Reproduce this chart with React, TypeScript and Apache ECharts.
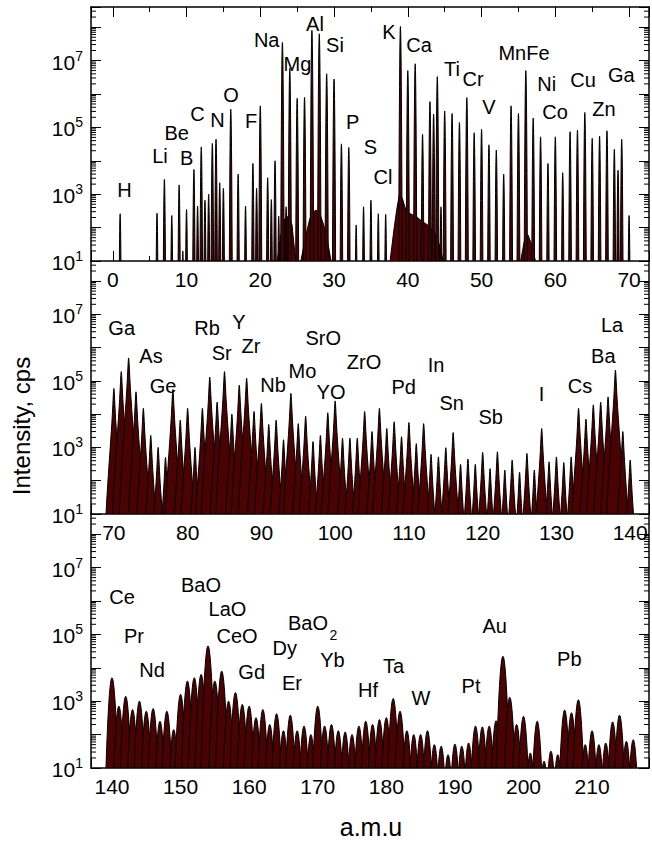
import React, { useEffect, useRef } from 'react';
import * as echarts from 'echarts';

// ---------------- data ----------------
// [mass (a.m.u), intensity (cps)]
const P1_PEAKS: [number, number][] = [
  [1, 260], [6, 270], [7, 2800], [8, 230], [9, 1900], [9.5, 20], [10, 350], [11, 5500], [11.5, 440],
  [12, 26000], [12.5, 660], [13, 1000], [13.5, 33000], [14, 44000], [14.5, 2200], [15, 1500],
  [16, 350000], [17, 4000], [18, 440], [19, 8300], [19.5, 1500], [20, 440000], [21, 3100], [21.5, 690],
  [22, 10000], [22.5, 220], [23, 3.5e7], [23.5, 420], [24, 5.9e6], [25, 7.4e5], [26, 7.9e5],
  [27, 8e7], [28, 6.3e7], [29, 4e6], [30, 2.8e6], [31, 32000], [32, 25000], [33, 120], [34, 420],
  [35, 660], [36, 260], [37, 250], [39, 1.05e8], [40, 5e6], [41, 8e6], [42, 62000], [43, 5.9e5],
  [43.5, 2.5e5], [44, 3.3e6], [44.5, 420], [45, 3.1e5], [46, 2.6e5], [47, 1.4e5], [48, 7.8e5],
  [49, 69000], [50, 87000], [51, 30000], [52, 21000], [53, 4000], [54, 4.4e5], [55, 2.6e5],
  [56, 5e6], [57, 1.9e5], [58, 52000], [59, 8300], [60, 52000], [61, 4400], [62, 74000],
  [63, 83000], [64, 2.8e5], [65, 47000], [66, 55000], [67, 79000], [68, 22000], [68.5, 5200],
  [69, 44000], [70, 230],
];
// broad continuum under the strongest lines of the first panel
const P1_HILL_NA: [number, number][] = [[22.3, 10], [22.8, 60], [23.3, 180], [23.8, 220], [24.3, 120], [24.8, 10]];
const P1_HILL_AL: [number, number][] = [[25.5, 10], [26.2, 60], [26.7, 180], [27.2, 300], [27.6, 330], [28.1, 250], [28.6, 120], [29.1, 40], [29.6, 10]];
const P1_HILL_K: [number, number][] = [[37.6, 10], [38.1, 80], [38.5, 350], [38.9, 1100], [39.3, 700], [39.8, 300], [40.5, 250], [41.3, 200], [42, 150], [42.7, 120], [43.5, 80], [44.3, 30], [44.8, 10]];
const P1_HILL_FE: [number, number][] = [[55.3, 10], [55.8, 40], [56.3, 60], [56.8, 30], [57.3, 10]];

const P2_PEAKS: [number, number][] = [
  [70, 59000], [71, 1.9e5], [72, 4.9e5], [73, 47000], [74, 15000], [75, 2300], [76, 1000], [77, 500],
  [78, 55000], [79, 6600], [80, 15000], [81, 1000], [82, 15000], [83, 1.3e5], [84, 23000], [85, 1.9e5],
  [86, 10000], [87, 74000], [88, 1.2e5], [89, 12000], [90, 21000], [91, 4900], [92, 6600], [93, 1700],
  [94, 42000], [95, 5200], [96, 8700], [97, 1500], [98, 2300], [99, 11000], [100, 25000], [101, 1900],
  [102, 1900], [103, 1900], [104, 12000], [105, 3000], [106, 15000], [107, 3700], [108, 5900],
  [109, 2100], [110, 5600], [111, 1300], [112, 5200], [113, 620], [114, 520], [115, 980], [116, 2800],
  [117, 310], [118, 450], [119, 310], [120, 710], [121, 230], [122, 740], [123, 210], [124, 420],
  [125, 180], [126, 660], [127, 210], [128, 3700], [129, 370], [130, 520], [131, 350], [132, 520],
  [133, 15000], [134, 7100], [135, 19000], [136, 23000], [137, 33000], [138, 2.1e5], [139, 3000],
  [140, 420],
];

const P3_PEAKS: [number, number][] = [
  [140, 5000], [141, 710], [142, 1400], [143, 560], [144, 1000], [145, 500], [146, 600], [147, 250],
  [148, 500], [149, 140], [150, 1600], [151, 4000], [152, 5000], [153, 6300], [154, 45000], [155, 4000],
  [156, 7900], [157, 1000], [158, 1800], [159, 800], [160, 710], [161, 320], [162, 560], [163, 200],
  [164, 420], [165, 130], [166, 380], [167, 130], [168, 180], [169, 100], [170, 710], [171, 180],
  [172, 200], [173, 130], [174, 120], [175, 100], [176, 180], [177, 250], [178, 200], [179, 280],
  [180, 320], [181, 1200], [182, 500], [183, 130], [184, 100], [185, 100], [186, 130], [187, 50],
  [188, 45], [189, 25], [190, 52], [191, 45], [192, 56], [193, 180], [194, 170], [195, 180],
  [196, 260], [197, 22000], [198, 1300], [199, 200], [200, 350], [201, 28], [202, 250], [203, 16],
  [204, 32], [205, 25], [206, 540], [207, 450], [208, 1100], [209, 50], [210, 130], [211, 50],
  [212, 56], [213, 240], [214, 380], [215, 63], [216, 70],
];

// element annotations: text and its centre on the page
const LABELS_P1: [string, number, number][] = [
  ['H', 124.5, 190], ['Li', 160, 156], ['Be', 176.7, 132.5], ['B', 186.7, 157.5], ['C', 197.5, 114],
  ['N', 217.5, 120], ['O', 231, 95], ['F', 251, 120.5], ['Na', 266.7, 39.5], ['Mg', 297.5, 63.5],
  ['Al', 315, 24], ['Si', 335, 45], ['P', 352.7, 122], ['S', 370.5, 147], ['Cl', 383, 177],
  ['K', 389, 31.5], ['Ca', 419, 45], ['Ti', 452, 69], ['Cr', 473, 79], ['V', 489, 107],
  ['MnFe', 524, 53], ['Ni', 546.7, 84], ['Co', 555, 112], ['Cu', 583, 80], ['Zn', 604, 109],
  ['Ga', 621.3, 75],
];
const LABELS_P2: [string, number, number][] = [
  ['Ga', 121.7, 328], ['As', 151, 356], ['Ge', 163, 386], ['Rb', 207, 327.5], ['Sr', 221.7, 353],
  ['Y', 239, 321.5], ['Zr', 251, 346], ['Nb', 273, 384.5], ['Mo', 302.5, 371], ['SrO', 323.3, 338],
  ['YO', 331, 392], ['ZrO', 364, 361.5], ['Pd', 403.7, 386.5], ['In', 436, 365], ['Sn', 451.7, 402.5],
  ['Sb', 490.7, 416.5], ['I', 541.5, 394], ['Cs', 580, 386], ['Ba', 603.3, 356], ['La', 612, 325],
];
const LABELS_P3: [string, number, number][] = [
  ['Ce', 122, 597], ['Pr', 134, 636], ['Nd', 152, 669.5], ['BaO', 201, 585], ['LaO', 227.5, 608.5],
  ['CeO', 237, 636], ['Gd', 251.7, 671.5], ['Dy', 284.7, 647.5], ['BaO', 308, 623], ['Er', 292, 683],
  ['Yb', 332.5, 660], ['Hf', 368, 690], ['Ta', 393.5, 666], ['W', 421, 698], ['Pt', 471, 686],
  ['Au', 494.7, 626], ['Pb', 569.3, 659],
];
const SUBSCRIPTS: [string, number, number][] = [['2', 333.5, 635]];

const Y_TITLE = 'Intensity, cps';
const X_TITLE = 'a.m.u';

// ---------------- layout / style ----------------
const Y_MIN = 10;
const Y_MAX = 4e8;
const GRID_LEFT = 91;
const GRID_W = 559;
// peak shape per panel: drop (decades) = log10(1 + (dx/g)^2) + k dx^2
const PANELS = [
  { top: 7, height: 254, xMin: -2.95, xMax: 72.7, g: Infinity, k: 120, peaks: P1_PEAKS },
  { top: 261, height: 253, xMin: 66.9, xMax: 142.55, g: 0.1, k: 1.5, peaks: P2_PEAKS },
  { top: 514, height: 254, xMin: 136.94, xMax: 218.3, g: Infinity, k: 3.5, peaks: P3_PEAKS },
];
const FONT = "'Liberation Sans', Arial, Helvetica, sans-serif";
const FILL = '#4a0202';

// minor log ticks (2..9 x each decade) for the y axes
const MINOR_Y: number[] = [];
for (let e = 1; e <= 8; e++) {
  for (let m = 2; m <= 9; m++) {
    const v = m * Math.pow(10, e);
    if (v < Y_MAX) MINOR_Y.push(v);
  }
}

function shapeDrop(dx: number, g: number, k: number) {
  const lor = isFinite(g) ? Math.log10(1 + (dx / g) * (dx / g)) : 0;
  return lor + k * dx * dx;
}

function peakRenderer(g: number, k: number) {
  return (params: any, api: any) => {
    const m = api.value(0) as number;
    const v = api.value(1) as number;
    const top = Math.log10(v);
    const base = Math.log10(Y_MIN);
    const h = top - base;
    if (!(h > 0)) return null;
    let lo = 0;
    let hi = 4;
    for (let it = 0; it < 40; it++) {
      const mid = (lo + hi) / 2;
      if (shapeDrop(mid, g, k) < h) lo = mid;
      else hi = mid;
    }
    const hw = hi;
    const pts: number[][] = [];
    const N = 14;
    for (let i = -N; i <= N; i++) {
      const t = i / N;
      const dx = Math.sign(t) * t * t * hw;
      const lv = Math.max(base, top - shapeDrop(Math.abs(dx), g, k));
      pts.push(api.coord([m + dx, Math.pow(10, lv)]));
    }
    return {
      type: 'polygon',
      shape: { points: pts },
      style: { fill: FILL, stroke: '#000', lineWidth: 1 },
    };
  };
}

function minorTickRenderer(params: any, api: any) {
  const cs = params.coordSys;
  const y = api.coord([api.value(0), api.value(1)])[1];
  const st = { stroke: '#000', lineWidth: 1 };
  return {
    type: 'group',
    children: [
      { type: 'line', shape: { x1: cs.x, y1: y, x2: cs.x + 5, y2: y }, style: st },
      { type: 'line', shape: { x1: cs.x + cs.width - 5, y1: y, x2: cs.x + cs.width, y2: y }, style: st },
    ],
  };
}

function xLabel(v: number) {
  const r = Math.round(v / 10) * 10;
  return Math.abs(v - r) < 1e-6 ? String(r) : '';
}

function yLabel(v: number) {
  const e = Math.log10(v);
  const r = Math.round(e);
  if (Math.abs(e - r) > 1e-6 || r % 2 === 0) return '';
  return `{b|10}{s|${r}}`;
}

function textEl(t: string, x: number, y: number, size: number, rotation = 0) {
  return {
    type: 'text',
    x,
    y,
    rotation,
    silent: true,
    z: 100,
    style: {
      text: t,
      fill: '#000',
      font: `${size}px ${FONT}`,
      fontSize: size,
      fontFamily: FONT,
      align: 'center',
      verticalAlign: 'middle',
      textAlign: 'center',
      textVerticalAlign: 'middle',
    },
  };
}

function buildOption() {
  const axisLine = { show: true, onZero: false, lineStyle: { color: '#000', width: 1.5 } };
  const tick = { show: true, inside: true, length: 10, lineStyle: { color: '#000', width: 1 } };

  const xAxes: any[] = PANELS.map((p, i) => ({
    type: 'value',
    gridIndex: i,
    position: 'bottom',
    min: p.xMin,
    max: p.xMax,
    minInterval: 10,
    maxInterval: 10,
    axisLine,
    axisTick: tick,
    minorTick: { show: true, splitNumber: 2, length: 5, lineStyle: { color: '#000', width: 1 } },
    splitLine: { show: false },
    minorSplitLine: { show: false },
    axisLabel: { show: true, margin: 8, color: '#000', fontSize: 21, fontFamily: FONT, formatter: xLabel },
  }));
  xAxes.push({ ...xAxes[0], position: 'top', axisLabel: { show: false } });

  const yBase = (i: number) => ({
    type: 'log',
    logBase: 10,
    gridIndex: i,
    min: Y_MIN,
    max: Y_MAX,
    axisLine,
    axisTick: tick,
    minorTick: { show: false },
    splitLine: { show: false },
  });
  const yAxes: any[] = [];
  PANELS.forEach((_, i) =>
    yAxes.push({
      ...yBase(i),
      position: 'left',
      axisLabel: {
        show: true,
        margin: 8,
        color: '#000',
        formatter: yLabel,
        rich: {
          b: { fontSize: 21, fontFamily: FONT, color: '#000', lineHeight: 24, verticalAlign: 'bottom' },
          s: { fontSize: 14, fontFamily: FONT, color: '#000', lineHeight: 14, verticalAlign: 'top' },
        },
      },
    })
  );
  PANELS.forEach((_, i) => yAxes.push({ ...yBase(i), position: 'right', axisLabel: { show: false } }));

  const series: any[] = [];
  [P1_HILL_NA, P1_HILL_AL, P1_HILL_K, P1_HILL_FE].forEach((h) =>
    series.push({
      type: 'line',
      xAxisIndex: 0,
      yAxisIndex: 0,
      data: h,
      symbol: 'none',
      clip: true,
      lineStyle: { color: '#000', width: 1 },
      areaStyle: { color: FILL, opacity: 1 },
      z: 2,
    })
  );
  PANELS.forEach((p, i) => {
    series.push({
      type: 'custom',
      xAxisIndex: i,
      yAxisIndex: i,
      data: p.peaks,
      encode: { x: 0, y: 1 },
      clip: true,
      renderItem: peakRenderer(p.g, p.k),
      z: 3,
    });
    series.push({
      type: 'custom',
      xAxisIndex: i,
      yAxisIndex: i,
      data: MINOR_Y.map((v) => [p.xMin, v]),
      encode: { x: 0, y: 1 },
      clip: false,
      silent: true,
      renderItem: minorTickRenderer,
      z: 10,
    });
  });

  const graphics: any[] = [];
  [...LABELS_P1, ...LABELS_P2, ...LABELS_P3].forEach(([t, x, y]) => graphics.push(textEl(t, x, y, 20)));
  SUBSCRIPTS.forEach(([t, x, y]) => graphics.push(textEl(t, x, y, 14)));
  graphics.push(textEl(Y_TITLE, 21, 426, 24, Math.PI / 2));
  graphics.push(textEl(X_TITLE, 371, 827, 25));

  return {
    animation: false,
    backgroundColor: '#fff',
    textStyle: { fontFamily: FONT },
    grid: PANELS.map((p) => ({ left: GRID_LEFT, top: p.top, width: GRID_W, height: p.height })),
    xAxis: xAxes,
    yAxis: yAxes,
    series,
    graphic: graphics,
  };
}

export default function App() {
  const ref = useRef<HTMLDivElement>(null);
  useEffect(() => {
    document.body.style.margin = '0';
    const chart = echarts.init(ref.current as HTMLDivElement, undefined, { renderer: 'svg' });
    chart.setOption(buildOption() as any);
    return () => chart.dispose();
  }, []);
  return <div ref={ref} style={{ width: 652, height: 847 }} />;
}
